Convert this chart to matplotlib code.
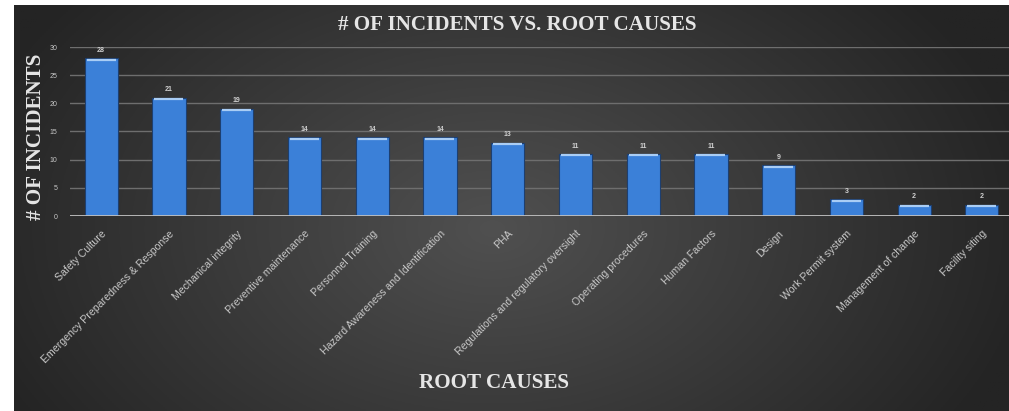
import numpy as np
import matplotlib
matplotlib.use("Agg")
import matplotlib.pyplot as plt

categories = [
    "Safety Culture",
    "Emergency Preparedness & Response",
    "Mechanical integrity",
    "Preventive maintenance",
    "Personnel Training",
    "Hazard Awareness and Identification",
    "PHA",
    "Regulations and regulatory oversight",
    "Operating procedures",
    "Human Factors",
    "Design",
    "Work Permit system",
    "Management of change",
    "Facility siting",
]
incidents = [28, 21, 19, 14, 14, 14, 13, 11, 11, 11, 9, 3, 2, 2]
yticks = [0, 5, 10, 15, 20, 25, 30]

title = "# OF INCIDENTS VS. ROOT CAUSES"
xlabel = "ROOT CAUSES"
ylabel = "# OF INCIDENTS"

W, H = 1009, 411
fig = plt.figure(figsize=(W / 100, H / 100), dpi=100)
fig.patch.set_facecolor("white")

# background panel with radial gradient
bg = fig.add_axes([14 / W, 0, (W - 14) / W, (H - 5) / H])
bg.set_axis_off()
ny, nx = 200, 500
yy, xx = np.mgrid[0:ny, 0:nx]
cx, cy = nx * 0.48, ny * 0.55
r = np.sqrt(((xx - cx) / (nx * 0.55)) ** 2 + ((yy - cy) / (ny * 0.9)) ** 2)
r = np.clip(r, 0, 1)
center = np.array([0x50, 0x50, 0x50]) / 255
edge = np.array([0x24, 0x24, 0x24]) / 255
img = center[None, None, :] * (1 - r[..., None]) + edge[None, None, :] * r[..., None]
bg.imshow(img, aspect="auto", extent=[0, 1, 0, 1], origin="upper")
bg.set_xlim(0, 1)
bg.set_ylim(0, 1)

ax = fig.add_axes([70 / W, 1 - 216 / H, (W - 70) / W, (216 - 47) / H])
ax.set_facecolor("none")
for s in ax.spines.values():
    s.set_visible(False)

x = np.arange(len(categories))
bars = ax.bar(x, incidents, width=0.49, color="#3b80d8", edgecolor="#1d3f70",
              linewidth=0.8, zorder=3)
# light cap on top of bars
for b in bars:
    ax.plot([b.get_x() + 0.03, b.get_x() + b.get_width() - 0.03],
            [b.get_height() - 0.25] * 2, color="#a9cdf5", lw=1.6, zorder=4,
            solid_capstyle="butt")

for xi, v in zip(x, incidents):
    ax.text(xi, v + 0.8, str(v), ha="center", va="bottom", fontsize=5,
            color="#d0d0d0", family="Liberation Sans", fontweight="bold")

ax.set_ylim(0, 30)
ax.set_xlim(-0.46, 13.4)
ax.set_yticks(yticks)
ax.set_yticklabels([str(t) for t in yticks], fontsize=5, color="#c8c8c8",
                   family="Liberation Sans")
ax.tick_params(axis="y", length=0, pad=9)
ax.grid(axis="y", color="#6e6e6e", linewidth=1.0, zorder=0)
ax.axhline(0, color="#c0c0c0", linewidth=1.3, zorder=5)

ax.set_xticks(x)
ax.set_xticklabels(categories, rotation=45, ha="right", rotation_mode="anchor",
                   fontsize=7.6, color="#c8c8c8", family="Liberation Sans")
ax.tick_params(axis="x", length=0, pad=9)

fig.text(517 / W, 1 - 25 / H, title, ha="center", va="center", fontsize=15.2,
         fontweight="bold", family="Liberation Serif", color="#e6e6e6")
fig.text(494 / W, 1 - 383 / H, xlabel, ha="center", va="center", fontsize=15.2,
         fontweight="bold", family="Liberation Serif", color="#e6e6e6")
fig.text(36 / W, 1 - 137 / H, ylabel, ha="center", va="center", fontsize=15.2,
         rotation=90, fontweight="bold", family="Liberation Serif", color="#e6e6e6")

fig.savefig("out.png", dpi=100)
